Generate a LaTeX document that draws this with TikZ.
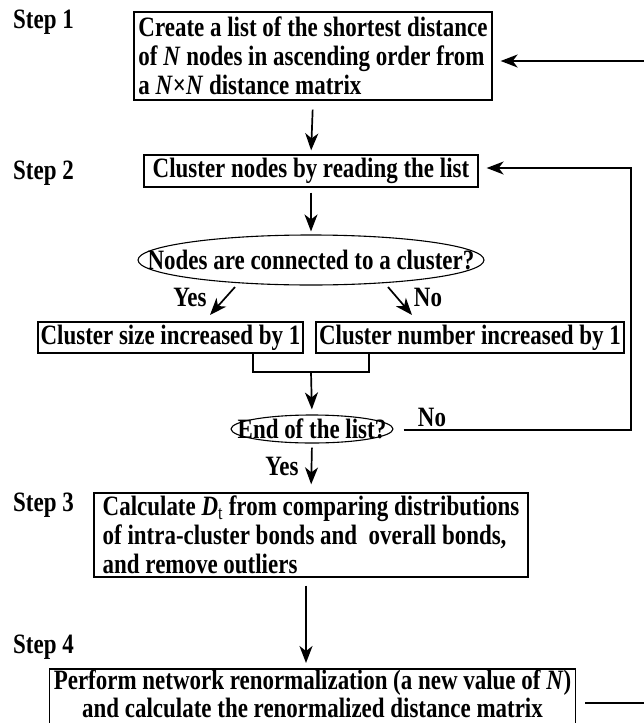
\documentclass[tikz,border=0pt]{standalone}
\usepackage{fontspec}
\setmainfont{Liberation Serif}[FakeStretch=0.82]
\usetikzlibrary{arrows.meta,shapes.geometric}
\tikzset{
  txt/.style={font=\bfseries\fontsize{28}{29}\selectfont, inner sep=0pt},
  box/.style={txt, draw, line width=1.3pt},
  frame/.style={line width=1.3pt},
  oval/.style={draw, ellipse, line width=1.1pt, inner sep=0pt},
  conn/.style={line width=1.7pt},
  arr/.style={conn, -{Stealth[length=17pt,width=13pt,inset=5pt]}},
}
\begin{document}
\begin{tikzpicture}[x=1pt,y=-1pt]
\useasboundingbox (0,0) rectangle (644,723);
\clip (0,0) rectangle (644,723);
\fill[white] (0,0) rectangle (644,723);

% step labels
\node[txt, anchor=base west] (s1) at (13,28) {Step 1};
\node[txt, anchor=base west] (s2) at (13,179) {Step 2};
\node[txt, anchor=base west] (s3) at (13,511) {Step 3};
\node[txt, anchor=base west] (s4) at (13,653) {Step 4};

% step 1 box
\node[box, minimum width=358pt, minimum height=88pt, align=left] (b1) at (313,56)
  {Create a list of the shortest distance\\ of \textit{N} nodes in ascending order from\\ a \textit{N}×\textit{N} distance matrix};

% step 2 box
\node[box, minimum width=334pt, minimum height=32pt] (b2) at (311,171) {Cluster nodes by reading the list};

% decision 1
\node[oval, minimum width=346pt, minimum height=50pt] (e1) at (311,260) {};
\node[txt] (e1t) at (e1.center) {Nodes are connected to a cluster?};

% yes / no branches
\coordinate (ya) at (235,287); \coordinate (yb) at (210,315);
\coordinate (na) at (388,287); \coordinate (nb) at (412,315);
\node[txt, anchor=base] (yes1) at (190,306) {Yes};
\node[txt, anchor=base] (no1) at (428,306) {No};

\node[box, minimum width=265pt, minimum height=31pt] (c1) at (170.5,337.5) {Cluster size increased by 1};
\node[box, minimum width=308pt, minimum height=31pt] (c2) at (470,337.5) {Cluster number increased by 1};

% decision 2
\node[oval, minimum width=162pt, minimum height=28pt] (e2) at (312,429) {};
\node[txt] (e2t) at (e2.center) {End of the list?};
\node[txt, anchor=base] (no2) at (432,426) {No};
\node[txt, anchor=base] (yes2) at (282,475) {Yes};

% step 3 box
\node[box, minimum width=434pt, minimum height=84pt, align=left] (b3) at (311,535)
  {Calculate {\itshape D}\textsubscript{\mdseries t} from comparing distributions\\ of intra-cluster bonds and\ \ overall bonds,\\ and remove outliers};

% step 4 box (bottom cut off by the page edge)
\node[txt, minimum width=525pt, align=center, anchor=north, inner ysep=0.5pt] (b4) at (312.5,669)
  {Perform network renormalization (a new value of \textit{N})\\[-1pt] and calculate the renormalized distance matrix};
\draw[frame] (b4.north west) rectangle ([yshift=-20pt]b4.south east);

% coordinates for connectors
\coordinate (bl) at (253,372);
\coordinate (br) at (369,372);
\coordinate (m) at (311,372);
\coordinate (rc) at (631,430);
\coordinate (rt) at (631,168);
\coordinate (r1) at (644,61);
\coordinate (r4) at (644,703);
\coordinate (a34) at (306,600);

% connectors
\draw[arr, shorten <=9pt, shorten >=4pt] (b1.south) -- (b2.north);
\draw[arr, shorten <=5pt, shorten >=3pt] (b2.south) -- (e1.north);
\draw[arr] (ya) -- (yb);
\draw[arr] (na) -- (nb);
\draw[conn] (c1.south -| bl) -- (bl) -- (br) -- (c2.south -| br);
\draw[arr, shorten >=5pt] (m) -- (e2.north);
\draw[arr, shorten >=8pt] (rc -| e2.east) ++(10,0) -- (rc) -- (rt) -- (b2.east |- rt);
\draw[arr, shorten <=4pt, shorten >=8pt] (e2.south) -- (b3.north);
\draw[arr, shorten <=8pt, shorten >=6pt] (b3.south -| a34) -- (b4.north -| a34);
\draw[arr, shorten >=8pt] (r1) -- (b1.east |- r1);
\draw[conn, shorten <=10pt] (b4.east |- r4) -- (r4);
\end{tikzpicture}
\end{document}
